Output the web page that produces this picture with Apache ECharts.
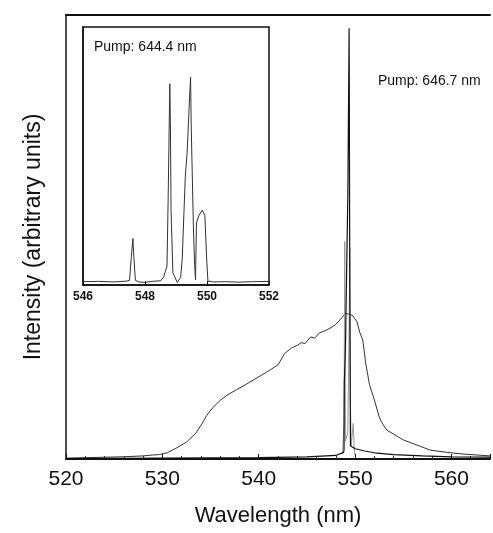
<!DOCTYPE html>
<html>
<head>
<meta charset="utf-8">
<script src="https://cdn.jsdelivr.net/npm/echarts@6/dist/echarts.min.js"></script>
<style>
  html, body { margin: 0; padding: 0; background: #fff; }
  #chart { width: 493px; height: 533px; }
</style>
</head>
<body>
<div id="chart"></div>
<script>
// Broad emission band (arbitrary units)
const broadWl = [520, 522, 524, 526, 528, 529, 529.7, 530.5, 531.4, 532.5, 533.5, 534.1, 534.6, 535.2, 536.0, 536.8, 537.7, 538.6, 539.6, 540.7, 542, 542.7, 543.4, 544, 544.4, 544.8, 545.4, 545.8, 546.3, 547, 547.5, 548, 548.5, 549, 549.2, 549.7, 550.2, 550.5, 550.8, 551.1, 551.5, 552, 552.5, 552.8, 553.3, 554, 555, 556.1, 557.8, 559.5, 561.3, 564];
const broadI  = [0.2, 0.3, 0.4, 0.5, 0.7, 0.9, 1.0, 1.4, 2.4, 3.8, 5.9, 7.9, 9.8, 11.5, 13.2, 14.5, 15.6, 16.7, 18.0, 19.4, 21.2, 23.8, 25.0, 25.6, 26.2, 26.0, 27.5, 27.2, 28.4, 29.0, 29.6, 30.3, 31.5, 32.8, 33.2, 32.4, 30.9, 28.4, 26.8, 21.6, 16.7, 13.3, 9.5, 8.1, 6.5, 5.6, 4.3, 3.4, 2.0, 1.5, 1.1, 0.7];

// Narrow line, pump 646.7 nm
const narrowWl = [520, 530, 540, 545, 548, 548.8, 548.85, 548.88, 549.0, 549.25, 549.38, 549.45, 549.52, 549.65, 550, 551, 552, 554, 557, 560, 564];
const narrowI  = [0.1, 0.2, 0.3, 0.5, 0.8, 1.5, 2.0, 17, 25, 60, 97, 40, 3, 2.6, 2.3, 1.8, 1.4, 1.0, 0.7, 0.5, 0.4];

// Pump 644.4 nm lines shown on the main scale
const lineWl = [548.7, 548.85, 548.93, 549.0, 549.25, 549.38, 549.45, 549.52, 549.6, 549.8, 549.95];
const lineI  = [1, 8, 49, 4, 6, 30, 47.5, 12, 3, 8, 1];

// Inset spectrum, pump 644.4 nm
const insetWl = [546, 546.5, 547, 547.4, 547.5, 547.56, 547.61, 547.63, 547.69, 547.8, 548.0, 548.3, 548.5, 548.6, 548.66, 548.71, 548.75, 548.80, 548.82, 548.84, 548.9, 549.04, 549.15, 549.2, 549.3, 549.36, 549.42, 549.47, 549.49, 549.56, 549.6, 549.63, 549.66, 549.74, 549.85, 549.93, 549.99, 550.03, 550.2, 550.6, 551, 551.5, 552];
const insetI  = [1.3, 1.4, 1.2, 1.5, 1.8, 11, 18, 13, 1.8, 1.2, 1.0, 1.5, 1.6, 3, 5.4, 7.3, 36, 78, 62, 29, 4.7, 1, 3, 10, 42, 51.5, 68, 80.5, 62, 23, 8, 2, 24, 27, 29, 27, 10, 1.5, 1.2, 1.3, 1.1, 1.3, 1.4];

const mainTicks = [520, 530, 540, 550, 560];
const insetTicks = [546, 548, 550, 552];
const xTitle = 'Wavelength (nm)';
const yTitle = 'Intensity (arbitrary units)';
const mainNote = 'Pump: 646.7 nm';
const insetNote = 'Pump: 644.4 nm';

const zip = (xs, ys) => xs.map((x, i) => [x, ys[i]]);
const FONT = '"Liberation Sans", Arial, sans-serif';

const chart = echarts.init(document.getElementById('chart'), null, { renderer: 'canvas' });

chart.setOption({
  animation: false,
  backgroundColor: '#fff',
  grid: [
    // main frame runs past the right edge of the page, so only three sides are drawn
    { left: 66, top: 15, right: 0, bottom: 74, show: false },
    { left: 83, top: 27, width: 186, height: 258, show: true, borderColor: '#111', borderWidth: 1.5, backgroundColor: '#fff', z: 5 }
  ],
  xAxis: [
    {
      gridIndex: 0, type: 'value', min: 520, max: 564, interval: 10,
      splitLine: { show: false },
      axisLine: { show: true, lineStyle: { color: '#111', width: 2 } },
      axisTick: { show: true, inside: true, length: 5, lineStyle: { color: '#111' } },
      minorTick: { show: true, splitNumber: 5, length: 3, lineStyle: { color: '#333' } },
      axisLabel: {
        color: '#111', fontSize: 21, fontFamily: FONT, margin: 10,
        formatter: v => (mainTicks.indexOf(v) >= 0 ? String(v) : '')
      },
      name: xTitle, nameLocation: 'middle', nameGap: 46,
      nameTextStyle: { color: '#111', fontSize: 22, fontFamily: FONT }
    },
    {
      gridIndex: 1, type: 'value', min: 546, max: 552, interval: 2,
      splitLine: { show: false },
      axisLine: { show: true, lineStyle: { color: '#111', width: 1.5 } },
      axisTick: { show: true, inside: true, length: 4, lineStyle: { color: '#111' } },
      axisLabel: {
        color: '#111', fontSize: 12, fontWeight: 'bold', fontFamily: FONT, margin: 6,
        formatter: v => (insetTicks.indexOf(v) >= 0 ? String(v) : '')
      },
      z: 6
    },
    {
      // top edge of the main frame
      gridIndex: 0, type: 'value', position: 'top', min: 520, max: 564,
      splitLine: { show: false },
      axisLine: { show: true, lineStyle: { color: '#111', width: 2 } },
      axisTick: { show: false },
      axisLabel: { show: false }
    }
  ],
  yAxis: [
    {
      gridIndex: 0, type: 'value', min: 0, max: 100,
      splitLine: { show: false },
      axisLine: { show: true, lineStyle: { color: '#111', width: 1.5 } },
      axisTick: { show: false },
      axisLabel: { show: false },
      name: yTitle, nameLocation: 'middle', nameGap: 21,
      nameTextStyle: { color: '#111', fontSize: 23, fontFamily: FONT }
    },
    {
      gridIndex: 1, type: 'value', min: 0, max: 100,
      splitLine: { show: false },
      axisLine: { show: true, lineStyle: { color: '#111', width: 1.5 } },
      axisTick: { show: false },
      axisLabel: { show: false },
      z: 6
    }
  ],
  series: [
    {
      type: 'line', xAxisIndex: 0, yAxisIndex: 0, data: zip(broadWl, broadI),
      showSymbol: false, smooth: false, lineStyle: { color: '#333', width: 1 }, z: 2
    },
    {
      type: 'line', xAxisIndex: 0, yAxisIndex: 0, data: zip(lineWl, lineI),
      showSymbol: false, lineStyle: { color: '#999', width: 1 }, z: 2
    },
    {
      type: 'line', xAxisIndex: 0, yAxisIndex: 0, data: zip(narrowWl, narrowI),
      showSymbol: false, lineStyle: { color: '#111', width: 1.2 }, z: 3
    },
    {
      type: 'line', xAxisIndex: 1, yAxisIndex: 1, data: zip(insetWl, insetI),
      showSymbol: false, lineStyle: { color: '#333', width: 1 }, z: 7
    }
  ],
  graphic: [
    { type: 'text', left: 94, top: 40, z: 10,
      style: { text: insetNote, fill: '#111', font: '14px ' + FONT } },
    { type: 'text', left: 378, top: 74, z: 10,
      style: { text: mainNote, fill: '#111', font: '14px ' + FONT } }
  ]
});
</script>
</body>
</html>
